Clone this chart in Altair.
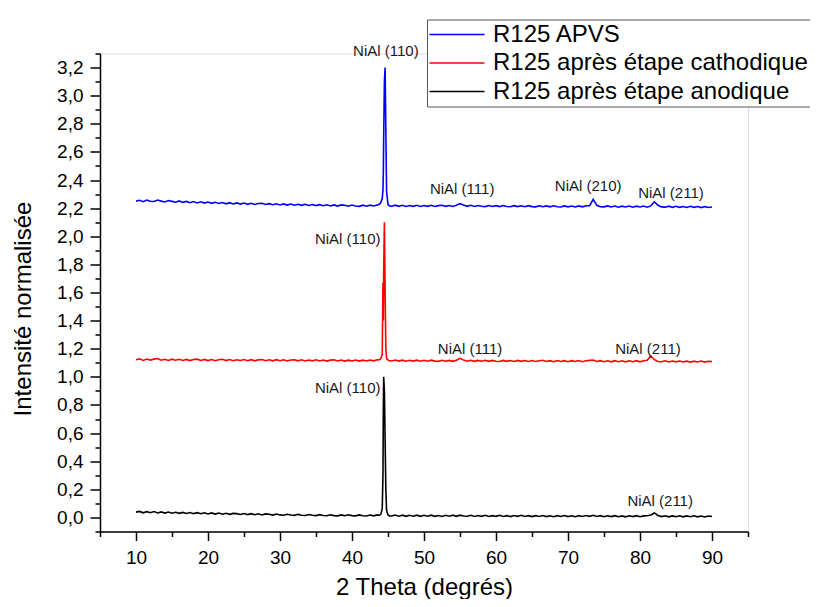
import altair as alt
import pandas as pd

SERIES = ["R125 APVS", "R125 après étape cathodique", "R125 après étape anodique"]
COLORS = ["#0000FF", "#FF0000", "#000000"]

two_theta = [
    10, 10.5, 11, 11.5, 12, 12.5, 13, 13.5, 14, 14.5,
    15, 15.5, 16, 16.5, 17, 17.5, 18, 18.5, 19, 19.5,
    20, 20.5, 21, 21.5, 22, 22.5, 23, 23.5, 24, 24.5,
    25, 25.5, 26, 26.5, 27, 27.5, 28, 28.5, 29, 29.5,
    30, 30.5, 31, 31.5, 32, 32.5, 33, 33.5, 34, 34.5,
    35, 35.5, 36, 36.5, 37, 37.5, 38, 38.5, 39, 39.5,
    40, 40.5, 41, 41.5, 42, 42.5, 43, 43.5,
    43.8, 44.0, 44.2, 44.3, 44.35, 44.4, 44.5, 44.6, 44.7, 44.8, 45.0, 45.2,
    45.5, 46, 46.5, 47, 47.5, 48, 48.5, 49, 49.5,
    50, 50.5, 51, 51.5, 52, 52.5, 53, 53.5, 54, 54.5,
    55, 55.5, 56, 56.5, 57, 57.5, 58, 58.5, 59, 59.5,
    60, 60.5, 61, 61.5, 62, 62.5, 63, 63.5, 64, 64.5,
    65, 65.5, 66, 66.5, 67, 67.5, 68, 68.5, 69, 69.5,
    70, 70.5, 71, 71.5, 72, 72.5, 73, 73.5, 74, 74.5,
    75, 75.5, 76, 76.5, 77, 77.5, 78, 78.5, 79, 79.5,
    80, 80.5, 81, 81.5, 82, 82.5, 83, 83.5, 84, 84.5,
    85, 85.5, 86, 86.5, 87, 87.5, 88, 88.5, 89, 89.5,
    90,
]

apvs = [
    2.250, 2.256, 2.246, 2.257, 2.249, 2.247, 2.258, 2.250, 2.244, 2.254,
    2.248, 2.242, 2.251, 2.241, 2.248, 2.239, 2.247, 2.237, 2.245, 2.236,
    2.243, 2.234, 2.242, 2.233, 2.240, 2.231, 2.239, 2.230, 2.237, 2.229,
    2.236, 2.227, 2.235, 2.226, 2.233, 2.235, 2.226, 2.232, 2.224, 2.231,
    2.223, 2.230, 2.222, 2.229, 2.221, 2.228, 2.220, 2.227, 2.219, 2.226,
    2.218, 2.225, 2.217, 2.224, 2.216, 2.223, 2.215, 2.223, 2.220, 2.214,
    2.222, 2.215, 2.213, 2.221, 2.214, 2.221, 2.215, 2.223,
    2.228, 2.240, 2.270, 2.330, 2.450, 2.700, 3.100, 3.200, 2.750, 2.320, 2.225, 2.216,
    2.214, 2.221, 2.213, 2.220, 2.212, 2.219, 2.213, 2.220, 2.212,
    2.219, 2.213, 2.220, 2.212, 2.218, 2.221, 2.213, 2.219, 2.212, 2.220,
    2.232, 2.222, 2.213, 2.220, 2.212, 2.219, 2.213, 2.211, 2.219, 2.212,
    2.218, 2.211, 2.219, 2.212, 2.210, 2.218, 2.211, 2.217, 2.210, 2.218,
    2.211, 2.209, 2.217, 2.210, 2.216, 2.209, 2.217, 2.210, 2.208, 2.216,
    2.209, 2.215, 2.208, 2.216, 2.209, 2.217, 2.218, 2.262, 2.220, 2.210,
    2.209, 2.216, 2.208, 2.215, 2.207, 2.214, 2.208, 2.215, 2.207, 2.214,
    2.208, 2.215, 2.207, 2.216, 2.245, 2.220, 2.209, 2.207, 2.214, 2.206,
    2.213, 2.206, 2.212, 2.205, 2.213, 2.206, 2.212, 2.204, 2.211, 2.205,
    2.208,
]

cathodique = [
    1.122, 1.128, 1.117, 1.127, 1.119, 1.126, 1.130, 1.118, 1.125, 1.117,
    1.126, 1.118, 1.125, 1.117, 1.124, 1.116, 1.123, 1.126, 1.117, 1.124,
    1.116, 1.123, 1.115, 1.122, 1.125, 1.116, 1.123, 1.115, 1.122, 1.116,
    1.123, 1.115, 1.122, 1.114, 1.121, 1.123, 1.115, 1.121, 1.114, 1.122,
    1.115, 1.121, 1.113, 1.120, 1.122, 1.114, 1.121, 1.113, 1.120, 1.114,
    1.121, 1.113, 1.120, 1.112, 1.119, 1.121, 1.113, 1.120, 1.112, 1.119,
    1.113, 1.120, 1.112, 1.119, 1.113, 1.120, 1.114, 1.121,
    1.122, 1.130, 1.160, 1.670, 1.400, 1.750, 2.100, 1.600, 1.200, 1.130, 1.120, 1.114,
    1.113, 1.120, 1.112, 1.119, 1.111, 1.118, 1.112, 1.119, 1.111,
    1.118, 1.111, 1.119, 1.112, 1.110, 1.118, 1.111, 1.117, 1.110, 1.118,
    1.132, 1.119, 1.111, 1.118, 1.110, 1.117, 1.111, 1.118, 1.110, 1.117,
    1.111, 1.109, 1.117, 1.110, 1.116, 1.109, 1.117, 1.110, 1.116, 1.109,
    1.116, 1.109, 1.115, 1.118, 1.109, 1.115, 1.108, 1.116, 1.109, 1.115,
    1.108, 1.115, 1.109, 1.116, 1.108, 1.114, 1.117, 1.120, 1.109, 1.115,
    1.108, 1.114, 1.107, 1.115, 1.108, 1.114, 1.107, 1.114, 1.108, 1.115,
    1.107, 1.114, 1.118, 1.148, 1.122, 1.109, 1.107, 1.114, 1.106, 1.113,
    1.107, 1.113, 1.106, 1.112, 1.105, 1.112, 1.106, 1.113, 1.105, 1.111,
    1.108,
]

anodique = [
    0.038, 0.043, 0.033, 0.041, 0.034, 0.042, 0.032, 0.039, 0.031, 0.038,
    0.030, 0.037, 0.029, 0.036, 0.028, 0.035, 0.027, 0.034, 0.026, 0.033,
    0.025, 0.032, 0.024, 0.031, 0.023, 0.030, 0.022, 0.029, 0.027, 0.021,
    0.028, 0.020, 0.027, 0.019, 0.026, 0.018, 0.025, 0.023, 0.017, 0.024,
    0.018, 0.016, 0.023, 0.017, 0.015, 0.022, 0.016, 0.014, 0.021, 0.015,
    0.013, 0.020, 0.014, 0.012, 0.019, 0.013, 0.011, 0.018, 0.012, 0.019,
    0.013, 0.011, 0.018, 0.012, 0.010, 0.017, 0.011, 0.018,
    0.016, 0.022, 0.060, 0.300, 0.750, 1.000, 0.900, 0.550, 0.200, 0.050, 0.018, 0.011,
    0.010, 0.017, 0.009, 0.016, 0.008, 0.015, 0.009, 0.016, 0.008,
    0.015, 0.009, 0.016, 0.008, 0.014, 0.007, 0.015, 0.009, 0.016, 0.008,
    0.016, 0.010, 0.008, 0.015, 0.007, 0.014, 0.008, 0.015, 0.007, 0.013,
    0.008, 0.015, 0.007, 0.013, 0.006, 0.014, 0.008, 0.015, 0.007, 0.013,
    0.006, 0.013, 0.007, 0.014, 0.006, 0.012, 0.005, 0.013, 0.007, 0.014,
    0.006, 0.012, 0.005, 0.013, 0.007, 0.014, 0.008, 0.015, 0.007, 0.013,
    0.005, 0.012, 0.006, 0.013, 0.005, 0.011, 0.004, 0.012, 0.006, 0.013,
    0.005, 0.011, 0.012, 0.018, 0.032, 0.014, 0.006, 0.012, 0.004, 0.011,
    0.005, 0.012, 0.004, 0.011, 0.005, 0.012, 0.004, 0.010, 0.003, 0.010,
    0.007,
]

ann_label = ["NiAl (110)", "NiAl (111)", "NiAl (210)", "NiAl (211)",
             "NiAl (110)", "NiAl (111)", "NiAl (211)",
             "NiAl (110)", "NiAl (211)"]
ann_x = [44.7, 55.3, 72.8, 84.3, 39.4, 56.4, 81.1, 39.4, 82.8]
ann_y = [3.317, 2.333, 2.36, 2.31, 1.984, 1.20, 1.20, 0.924, 0.114]

x_major = [10, 20, 30, 40, 50, 60, 70, 80, 90]
x_minor = [5, 15, 25, 35, 45, 55, 65, 75, 85, 95]
y_major = [0.0, 0.2, 0.4, 0.6, 0.8, 1.0, 1.2, 1.4, 1.6, 1.8, 2.0, 2.2, 2.4, 2.6,
           2.8, 3.0, 3.2]
y_minor = [-0.1, 0.1, 0.3, 0.5, 0.7, 0.9, 1.1, 1.3, 1.5, 1.7, 1.9, 2.1, 2.3, 2.5,
           2.7, 2.9, 3.1, 3.3]

rows = []
for name, ys in zip(SERIES, [apvs, cathodique, anodique]):
    for xv, yv in zip(two_theta, ys):
        rows.append({"theta": xv, "intensite": yv, "serie": name})
df = pd.DataFrame(rows)
ann = pd.DataFrame({"label": ann_label, "theta": ann_x, "intensite": ann_y})

FONT = "Liberation Sans, Arial, sans-serif"

x_scale = alt.Scale(domain=[5, 95], nice=False, zero=False)
y_scale = alt.Scale(domain=[-0.1, 3.3], nice=False, zero=False)

common = dict(labelFont=FONT, titleFont=FONT, labelColor="#000", titleColor="#000",
              domainColor="#000", tickColor="#000", domainWidth=1.5, tickWidth=1.5,
              grid=False)

x_axis = alt.Axis(
    values=x_major, title="2 Theta (degrés)", orient="bottom",
    tickSize=9, labelFontSize=19, titleFontSize=24, titleFontWeight="normal",
    labelPadding=8, titlePadding=8, **common,
)
y_axis = alt.Axis(
    values=y_major, title="Intensité normalisée", orient="left",
    labelExpr="replace(format(datum.value, '.1f'), '.', ',')",
    tickSize=10, labelFontSize=19, titleFontSize=24, titleFontWeight="normal",
    labelPadding=7, titlePadding=21, titleY=255, **common,
)
x_axis_minor = alt.Axis(values=x_minor, orient="bottom", title=None, labels=False,
                        domain=False, tickSize=5, tickWidth=1.5, tickColor="#000",
                        grid=False)
y_axis_minor = alt.Axis(values=y_minor, orient="left", title=None, labels=False,
                        domain=False, tickSize=5, tickWidth=1.5, tickColor="#000",
                        grid=False)

lines = alt.Chart(df).mark_line(strokeWidth=1.6).encode(
    x=alt.X("theta:Q", scale=x_scale, axis=x_axis),
    y=alt.Y("intensite:Q", scale=y_scale, axis=y_axis),
    color=alt.Color(
        "serie:N",
        scale=alt.Scale(domain=SERIES, range=COLORS),
        sort=SERIES,
        legend=alt.Legend(
            title=None, orient="none", legendX=327, legendY=-34,
            symbolType="M-5,0H5", symbolSize=121, symbolStrokeWidth=1.5,
            symbolOffset=15,
            labelFontSize=24, labelFont=FONT, labelColor="#000", labelLimit=600,
            labelOffset=24, rowPadding=4.5, padding=3,
            strokeColor="#555", fillColor="#ffffff",
        ),
    ),
    detail="serie:N",
)

minor = alt.Chart(ann).mark_point(opacity=0).encode(
    x=alt.X("theta:Q", scale=x_scale, axis=x_axis_minor),
    y=alt.Y("intensite:Q", scale=y_scale, axis=y_axis_minor),
)

texts = alt.Chart(ann).mark_text(font=FONT, fontSize=15, color="#1a1a1a",
                                 align="center", baseline="middle").encode(
    x=alt.X("theta:Q", scale=x_scale, axis=None),
    y=alt.Y("intensite:Q", scale=y_scale, axis=None),
    text="label:N",
)

chart = alt.layer(lines, minor, texts).resolve_axis(
    x="independent", y="independent"
).properties(
    width=648, height=478,
    padding={"left": 92, "top": 45.5, "right": 62, "bottom": 67.5},
    autosize=alt.AutoSizeParams(type="none"),
).configure_view(stroke=None).configure(background="white")

chart.save("out.html", embed_options={"renderer": "svg", "actions": False})
